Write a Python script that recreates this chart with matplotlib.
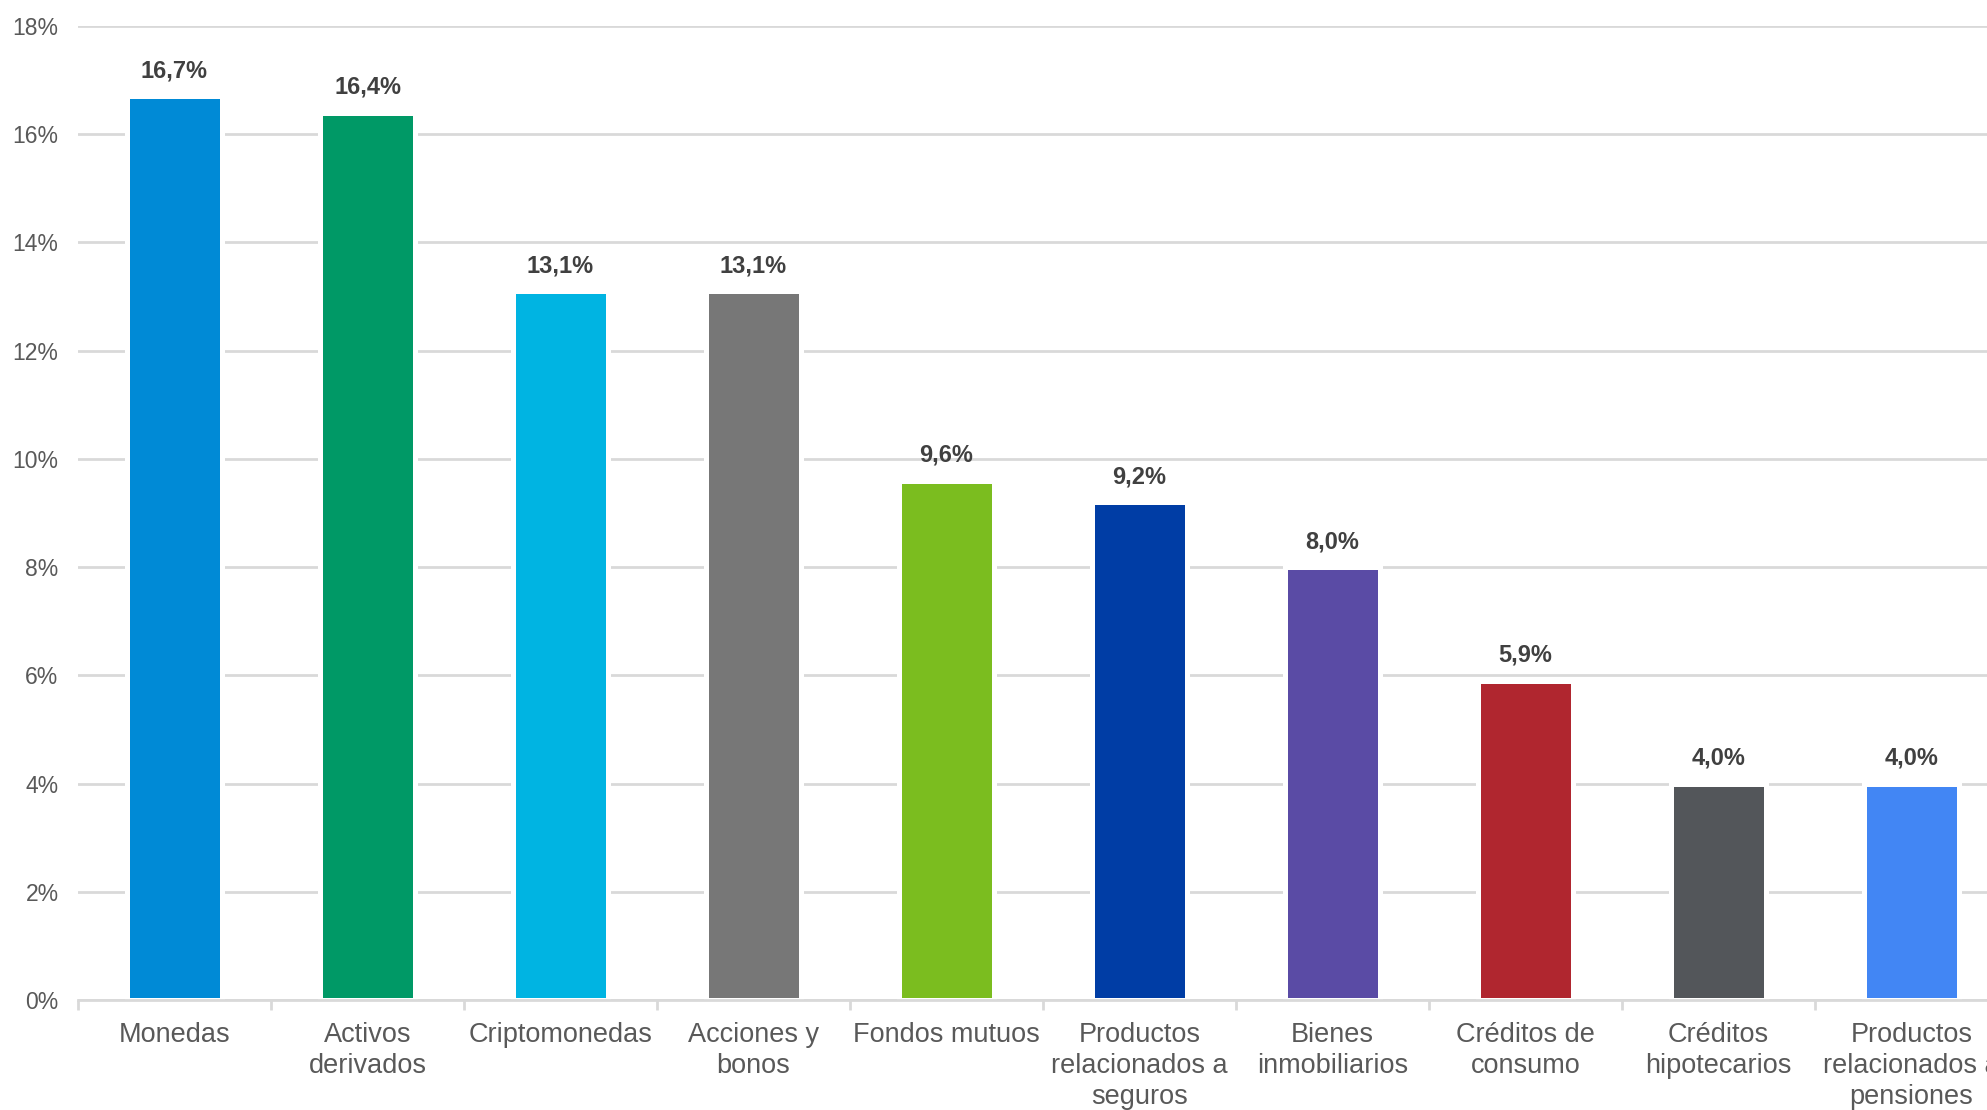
import matplotlib.pyplot as plt
import numpy as np
from matplotlib.ticker import MultipleLocator, FixedLocator

categorias = ["Monedas", "Activos\nderivados", "Criptomonedas", "Acciones y\nbonos",
              "Fondos mutuos", "Productos\nrelacionados a\nseguros", "Bienes\ninmobiliarios",
              "Créditos de\nconsumo", "Créditos\nhipotecarios", "Productos\nrelacionados a\npensiones"]
valores = [16.7, 16.4, 13.1, 13.1, 9.6, 9.2, 8.0, 5.9, 4.0, 4.0]
colores = ["#008AD6", "#009966", "#00B4E2", "#777777", "#7BBD1F",
           "#003DA5", "#5A4BA5", "#B0262F", "#53565A", "#4286F4"]

plt.rcParams['font.family'] = ['Liberation Sans', 'DejaVu Sans']

fig = plt.figure(figsize=(19.87, 11.1), dpi=100)
# el gráfico original está recortado a la derecha
ax = fig.add_axes([78 / 1987, 110 / 1110, 1930 / 1987, 974 / 1110])

x = np.arange(len(valores))
bars = ax.bar(x, valores, width=0.49, color=colores, edgecolor="white", linewidth=3.6, zorder=2)

for xi, v in zip(x, valores):
    ax.annotate(f"{v:.1f}%".replace(".", ","), (xi, v), xytext=(0, 10), textcoords="offset points",
                ha="center", va="bottom", fontsize=17, fontweight="bold", color="#404040")

ax.set_xlim(-0.5, len(valores) - 0.5)
ax.set_ylim(0, 18)
ax.yaxis.set_major_locator(MultipleLocator(2))
ax.set_yticklabels([f"{int(t)}%" for t in ax.get_yticks()])
ax.grid(axis="y", color="#D9D9D9", linewidth=2)
ax.set_axisbelow(True)

ax.set_xticks(x)
ax.set_xticklabels(categorias, fontsize=19.5, color="#595959", linespacing=1.25)
ax.xaxis.set_minor_locator(FixedLocator(np.arange(-0.5, len(valores), 1.0)))
ax.tick_params(axis="x", which="major", length=0, pad=16)
ax.tick_params(axis="x", which="minor", length=7, width=2, color="#D9D9D9")
ax.tick_params(axis="y", length=0, labelsize=16.5, labelcolor="#595959", pad=14)

for s in ["top", "right", "left"]:
    ax.spines[s].set_visible(False)
ax.spines["bottom"].set_color("#D9D9D9")
ax.spines["bottom"].set_linewidth(2)

fig.savefig("out.png", dpi=100)
